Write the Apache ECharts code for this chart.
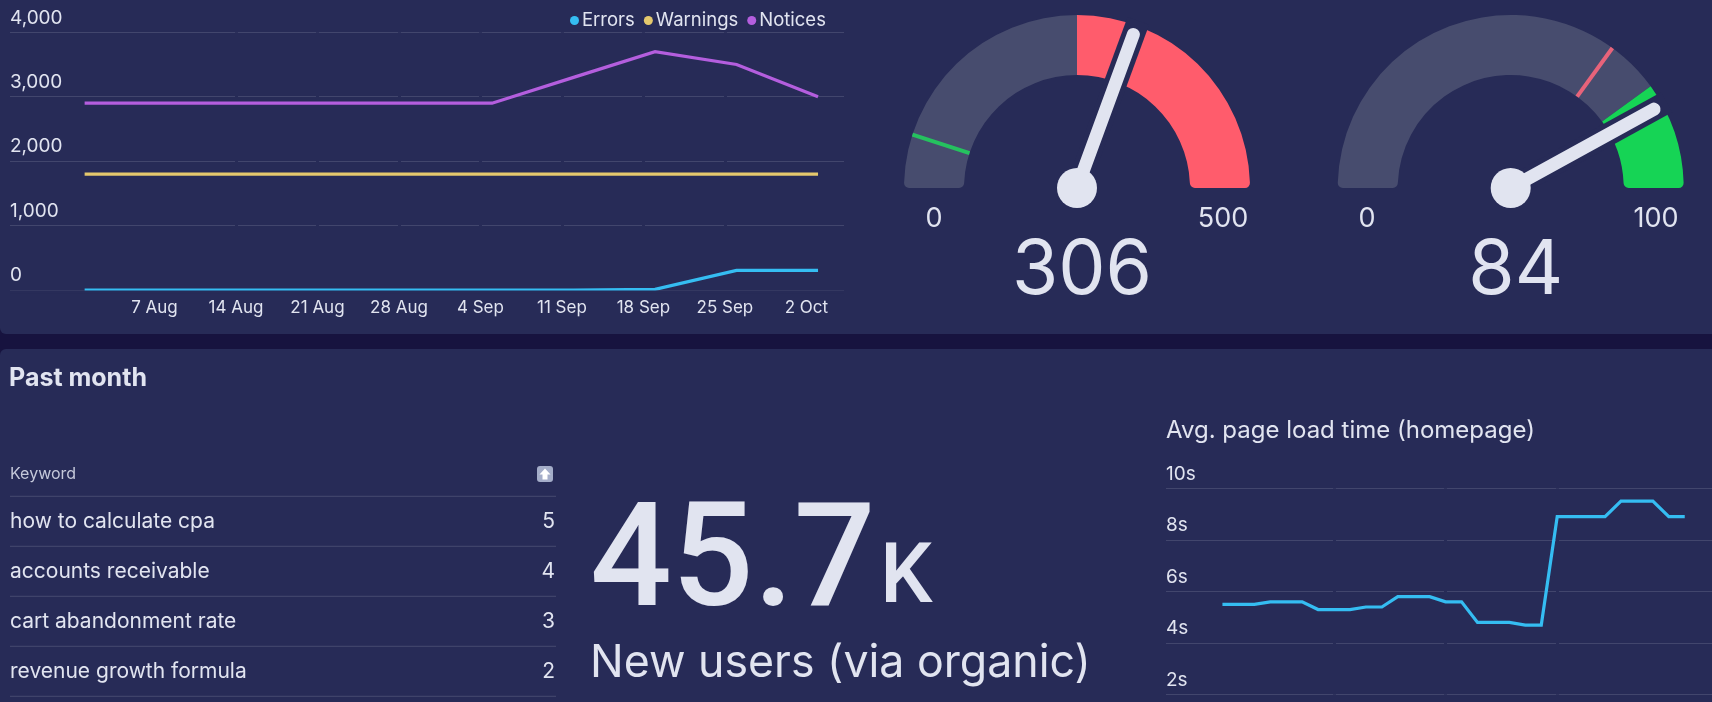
<!doctype html>
<html>
<head>
<meta charset="utf-8">
<title>Marketing dashboard</title>
<script src="https://cdn.jsdelivr.net/npm/echarts@6/dist/echarts.min.js"></script>
<style>
html,body{margin:0;padding:0;background:#17133f;overflow:hidden;}
#main{width:1712px;height:702px;}
</style>
</head>
<body>
<div id="main"></div>
<script>
// top left chart, one point a week, x is days after 1 Aug
var weekDays = [0,7,14,21,28,35,42,49,56,63];
var errors = [0,0,0,0,0,0,0,10,305,305];
var warnings = [1800,1800,1800,1800,1800,1800,1800,1800,1800,1800];
var notices = [2900,2900,2900,2900,2900,2900,3300,3700,3500,3000];
var tickDays = [6,13,20,27,34,41,48,55,62];
var tickLabels = ['7 Aug','14 Aug','21 Aug','28 Aug','4 Sep','11 Sep','18 Sep','25 Sep','2 Oct'];

// gauges
var gaugeA = {value:306, max:500, marker:50, threshold:250, bandColor:'#ff5c6c', markerColor:'#25c25f'};
var gaugeB = {value:84, max:100, marker:70, threshold:80, bandColor:'#16d455', markerColor:'#e8637a'};

// table
var keywords = ['how to calculate cpa','accounts receivable','cart abandonment rate','revenue growth formula'];
var keywordCounts = [5,4,3,2];

// page load time, one point a day
var loadDays = [0,1,2,3,4,5,6,7,8,9,10,11,12,13,14,15,16,17,18,19,20,21,22,23,24,25,26,27,28,29];
var loadTimes = [5.5,5.5,5.5,5.6,5.6,5.6,5.3,5.3,5.3,5.4,5.4,5.8,5.8,5.8,5.6,5.6,4.8,4.8,4.8,4.7,4.7,8.9,8.9,8.9,8.9,9.5,9.5,9.5,8.9,8.9];
var loadTicks = [0,7,14,21,28];

var panel = '#272b57';
var gridLine = '#42466d';
var textColor = '#e1e4f0';
var grey = '#474c6e';
var font = 'Inter';

var myChart = echarts.init(document.getElementById('main'));

function pairs(xs, ys){
	var out = [];
	for(var i=0;i<xs.length;i++){ out.push([xs[i], ys[i]]); }
	return out;
}

function lineSeries(name, color, data, xi){
	return {
		name:name, type:'line', xAxisIndex:xi, yAxisIndex:xi, data:data,
		showSymbol:false, symbol:'none', z:5,
		lineStyle:{color:color, width:3.2, join:'miter'},
		itemStyle:{color:color}
	};
}

// the arc is a pie, only the outer ends get the small rounded corner
function gaugeBand(g, center){
	return {
		type:'pie', silent:true, center:center, radius:[113,173],
		startAngle:180, endAngle:0, clockwise:true, z:2,
		label:{show:false}, labelLine:{show:false}, emphasis:{disabled:true},
		data:[
			{value:g.threshold, itemStyle:{color:grey, borderRadius:[5,0,5,0]}},
			{value:g.max-g.threshold, itemStyle:{color:g.bandColor, borderRadius:[0,5,0,5]}}
		]
	};
}

function gaugeBase(g, center, z){
	return {
		type:'gauge', silent:true, center:center, radius:173,
		startAngle:180, endAngle:0, min:0, max:g.max, z:z,
		axisLine:{show:false}, axisTick:{show:false}, splitLine:{show:false}, axisLabel:{show:false},
		title:{show:false}, detail:{show:false}, progress:{show:false}
	};
}

function gaugeParts(g, center){
	var marker = gaugeBase(g, center, 3);
	marker.data = [{value:g.marker}];
	marker.pointer = {icon:'rect', width:4, length:60, offsetCenter:[0,-113], itemStyle:{color:g.markerColor}};

	var gap = gaugeBase(g, center, 4);
	gap.data = [{value:g.value}];
	gap.pointer = {icon:'rect', width:23, length:178, itemStyle:{color:panel}};

	var needle = gaugeBase(g, center, 5);
	needle.data = [{value:g.value}];
	needle.pointer = {icon:'path://M0,6 A6,6 0 0 1 12,6 L12,170 L0,170 Z', width:13, length:170, itemStyle:{color:textColor}};
	needle.anchor = {show:true, size:40, showAbove:true, itemStyle:{color:textColor}};
	needle.detail = {show:true, valueAnimation:false, offsetCenter:[5,83], fontFamily:font, fontSize:75, fontWeight:400, color:textColor, formatter:'{value}'};
	return [gaugeBand(g, center), marker, gap, needle];
}

function label(x, y, text, size, extra){
	var style = {x:x, y:y, text:text, fontFamily:font, fontSize:size, fill:textColor, align:'left', verticalAlign:'middle'};
	for(var k in extra){ style[k] = extra[k]; }
	return {type:'text', silent:true, z:6, style:style};
}

var graphics = [
	{type:'rect', silent:true, z:-10, shape:{x:0, y:-10, width:1730, height:344, r:6}, style:{fill:panel}},
	{type:'rect', silent:true, z:-10, shape:{x:0, y:349, width:1730, height:363, r:6}, style:{fill:panel}},
	// the zero line sits half under the axis in the original
	{type:'rect', silent:true, z:5.5, shape:{x:10, y:290.5, width:834, height:3}, style:{fill:panel}},
	label(934, 218.5, '0', 27, {align:'center'}),
	label(1223, 218.5, String(gaugeA.max), 27, {align:'center'}),
	label(1367, 218.5, '0', 27, {align:'center'}),
	label(1656, 218.5, String(gaugeB.max), 27, {align:'center'}),
	label(9, 378, 'Past month', 25, {fontWeight:700}),
	label(10, 474, 'Keyword', 16, {fill:'#c5c8da'}),
	label(590, 569, '45.7', 144, {fontFamily:'Roboto', fontWeight:500}),
	label(880, 581, 'K', 83, {fontFamily:'Roboto', fontWeight:500}),
	label(590, 664, 'New users (via organic)', 44.7, {fontWeight:400}),
	label(1166, 431, 'Avg. page load time (homepage)', 24, {}),
	{type:'rect', silent:true, z:6, shape:{x:537, y:466, width:16, height:16, r:3}, style:{fill:'#a4adc9'}},
	{type:'polygon', silent:true, z:7, shape:{points:[[545,468.5],[550.5,474.5],[547.5,474.5],[547.5,479.5],[542.5,479.5],[542.5,474.5],[539.5,474.5]]}, style:{fill:'#ffffff'}}
];
var lineY = [496.3,546.3,596.3,646.3,696.3];
for(var r=0;r<lineY.length;r++){
	graphics.push({type:'line', silent:true, z:6, shape:{x1:10, y1:lineY[r], x2:556, y2:lineY[r]}, style:{stroke:'#464a70', lineWidth:1}});
}
for(var i=0;i<keywords.length;i++){
	graphics.push(label(10, 521.5+i*50, keywords[i], 21, {}));
	graphics.push(label(555, 521.5+i*50, String(keywordCounts[i]), 21, {align:'right'}));
}

var axisY = {
	type:'value',
	axisLine:{show:false}, axisTick:{show:false},
	splitLine:{show:true, lineStyle:{color:gridLine, width:1}},
	z:0
};

var series = [
	lineSeries('Errors', '#35bdf2', pairs(weekDays, errors), 0),
	lineSeries('Warnings', '#e4c86d', pairs(weekDays, warnings), 0),
	lineSeries('Notices', '#b45ede', pairs(weekDays, notices), 0),
	lineSeries('Load time', '#35bdf2', pairs(loadDays, loadTimes), 1)
];
series = series.concat(gaugeParts(gaugeA, [1077,188])).concat(gaugeParts(gaugeB, [1510.7,188]));

myChart.setOption({
	animation:false,
	backgroundColor:'transparent',
	textStyle:{fontFamily:font},
	legend:{
		data:['Errors','Warnings','Notices'], left:565, top:6, orient:'horizontal',
		icon:'circle', itemWidth:9, itemHeight:9, itemGap:9, selectedMode:false,
		textStyle:{color:textColor, fontSize:18.5, fontFamily:font, padding:[0,0,0,-2]}
	},
	grid:[
		{left:10, top:32.3, width:834, height:257.7},
		{left:1166, top:488.3, width:546, height:206.4}
	],
	xAxis:[
		{
			type:'value', gridIndex:0, z:1,
			min:-6.41, max:65.23,
			axisLine:{show:false},
			axisTick:{show:false, customValues:tickDays},
			splitLine:{show:true, showMinLine:false, showMaxLine:false, lineStyle:{color:panel, width:3}},
			axisLabel:{
				customValues:tickDays,
				color:textColor, fontSize:17, margin:9, fontFamily:font,
				formatter:function(v){ return tickLabels[tickDays.indexOf(v)]; }
			}
		},
		{
			type:'value', gridIndex:1, z:1,
			min:-3.54, max:30.71,
			axisLine:{show:false},
			axisTick:{show:false, customValues:loadTicks},
			splitLine:{show:true, showMinLine:false, showMaxLine:false, lineStyle:{color:panel, width:3}},
			axisLabel:{show:false, customValues:loadTicks}
		}
	],
	yAxis:[
		Object.assign({}, axisY, {
			gridIndex:0, min:0, max:4000, interval:1000,
			axisLabel:{inside:true, margin:0, color:textColor, fontSize:19, verticalAlign:'bottom', align:'left', padding:[0,0,5,0], fontFamily:font}
		}),
		Object.assign({}, axisY, {
			gridIndex:1, min:2, max:10, interval:2,
			axisLabel:{inside:true, margin:0, color:textColor, fontSize:19, verticalAlign:'bottom', align:'left', padding:[0,0,5,0], fontFamily:font, formatter:'{value}s'}
		})
	],
	graphic:graphics,
	series:series
});
</script>
</body>
</html>
